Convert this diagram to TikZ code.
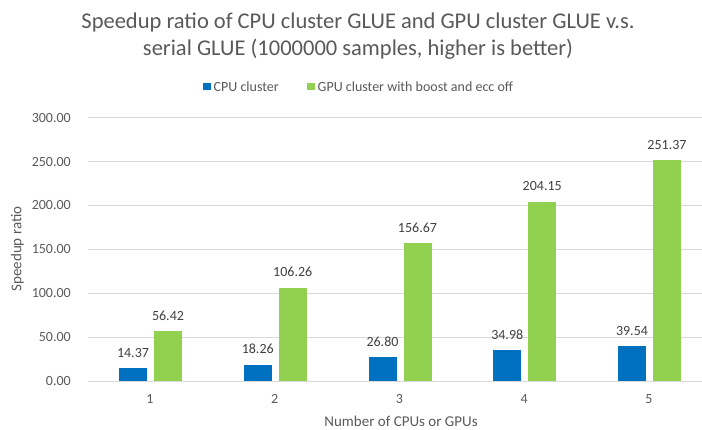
\documentclass[tikz,border=0pt]{standalone}
\usepackage{fontspec}
\setmainfont{Carlito}
\definecolor{cpublue}{HTML}{0070C0}
\definecolor{gpugreen}{HTML}{92D050}
\definecolor{gridgray}{HTML}{D9D9D9}
\definecolor{textgray}{HTML}{595959}
\definecolor{labelgray}{HTML}{404040}

\begin{document}
\begin{tikzpicture}[
    x=1pt, y=-1pt,
    gridline/.style={draw=gridgray, line width=0.9pt},
    cpubar/.style={fill=cpublue},
    gpubar/.style={fill=gpugreen},
    ticklabel/.style={text=textgray, font=\fontsize{14}{16}\selectfont, inner sep=0pt},
    valuelabel/.style={text=labelgray, font=\fontsize{14}{16}\selectfont, anchor=base, inner sep=0pt},
    legendtext/.style={text=textgray, font=\fontsize{14}{16}\selectfont, anchor=west, inner sep=0pt},
    axistitle/.style={text=textgray, font=\fontsize{15}{18}\selectfont, inner sep=0pt}
]
\useasboundingbox (0,0) rectangle (702,430);

% title and legend
\node[text=textgray, font=\fontsize{22.5}{27}\selectfont, align=center, inner sep=0pt] (title) at (358,36)
    {Speedup ratio of CPU cluster GLUE and GPU cluster GLUE v.s.\\serial GLUE (1000000 samples, higher is better)};
\fill[cpubar] (203,83) rectangle ++(7.5,7.5);
\node[legendtext] (cpulegend) at (213.5,86.7) {CPU cluster};
\fill[gpubar] (307,83) rectangle ++(7.5,7.5);
\node[legendtext] (gpulegend) at (317.5,86.7) {GPU cluster with boost and ecc off};

% grid and y ticks
\foreach \v in {0,50,...,300} {
    \draw[gridline] (88,{381-0.8777*\v}) -- (702,{381-0.8777*\v});
    \node[ticklabel, anchor=east] (ytick\v) at (71,{381-0.8777*\v}) {\v.00};
}

% bars
\foreach \i/\cpu/\gpu in {1/14.37/56.42, 2/18.26/106.26, 3/26.80/156.67, 4/34.98/204.15, 5/39.54/251.37} {
    \pgfmathsetmacro\xc{150+(\i-1)*124.75}
    \fill[cpubar] (\xc-31,381) rectangle (\xc-3,{381-0.8777*\cpu});
    \fill[gpubar] (\xc+4,381) rectangle (\xc+32,{381-0.8777*\gpu});
    \node[valuelabel] (cpuval\i) at (\xc-17,{381-0.8777*\cpu-11}) {\cpu};
    \node[valuelabel] (gpuval\i) at (\xc+18,{381-0.8777*\gpu-11}) {\gpu};
    \node[ticklabel] (xtick\i) at (\xc,399) {\i};
}

% axis titles
\node[axistitle] (xtitle) at (401,421) {Number of CPUs or GPUs};
\node[axistitle, rotate=90] (ytitle) at (17.5,249) {Speedup ratio};

\end{tikzpicture}
\end{document}
